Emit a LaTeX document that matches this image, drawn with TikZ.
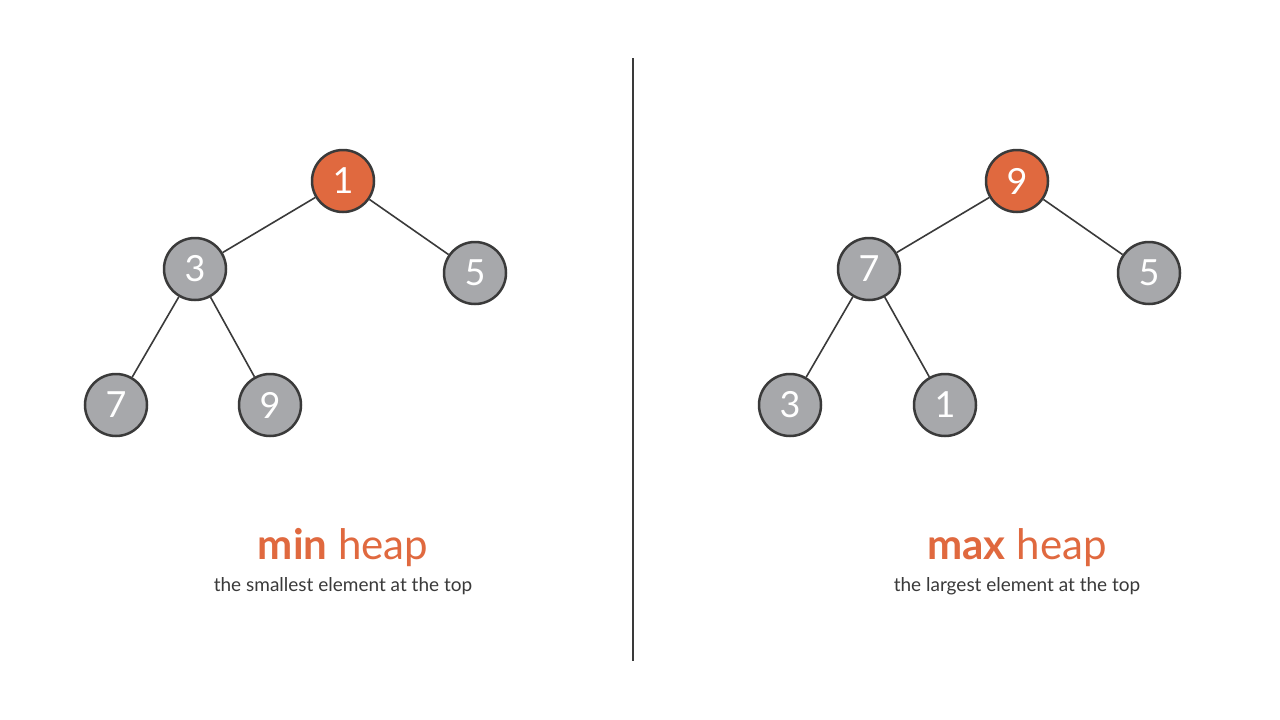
\documentclass[tikz,border=0pt]{standalone}
\usepackage{fontspec}
\setmainfont{Lato}
\definecolor{org}{HTML}{E0693F}
\definecolor{gry}{HTML}{A7A8AB}
\definecolor{drk}{HTML}{3A3A3A}
\begin{document}
\begin{tikzpicture}[x=1pt,y=-1pt,
  hn/.style={circle,draw=drk,line width=2.5pt,fill=gry,minimum size=62pt,inner sep=0pt,text=white,font=\fontsize{36}{36}\selectfont},
  rootn/.style={hn,fill=org},
  edge/.style={drk,line width=1.6pt},
  ttl/.style={text=org,font=\fontsize{42}{42}\selectfont},
  sub/.style={text=drk,font=\fontsize{19}{19}\selectfont}]
\useasboundingbox[fill=white] (0,0) rectangle (1280,720);
\draw[drk,line width=1.6pt] (633,58) -- (633,661);
% min heap
\node[rootn] (a1) at (343,181) {1};
\node[hn] (a3) at (195,269) {3};
\node[hn] (a5) at (475,273) {5};
\node[hn] (a7) at (116,405) {7};
\node[hn] (a9) at (270,405) {9};
\draw[edge] (a1) -- (a3); \draw[edge] (a1) -- (a5);
\draw[edge] (a3) -- (a7); \draw[edge] (a3) -- (a9);
\node[ttl] (t1) at (343,548) {\textbf{min} heap};
\node[sub] (s1) at (343,586) {the smallest element at the top};
% max heap
\node[rootn] (b9) at (1017,181) {9};
\node[hn] (b7) at (869,269) {7};
\node[hn] (b5) at (1149,273) {5};
\node[hn] (b3) at (790,405) {3};
\node[hn] (b1) at (945,405) {1};
\draw[edge] (b9) -- (b7); \draw[edge] (b9) -- (b5);
\draw[edge] (b7) -- (b3); \draw[edge] (b7) -- (b1);
\node[ttl] (t2) at (1017,548) {\textbf{max} heap};
\node[sub] (s2) at (1017,586) {the largest element at the top};
\end{tikzpicture}
\end{document}
